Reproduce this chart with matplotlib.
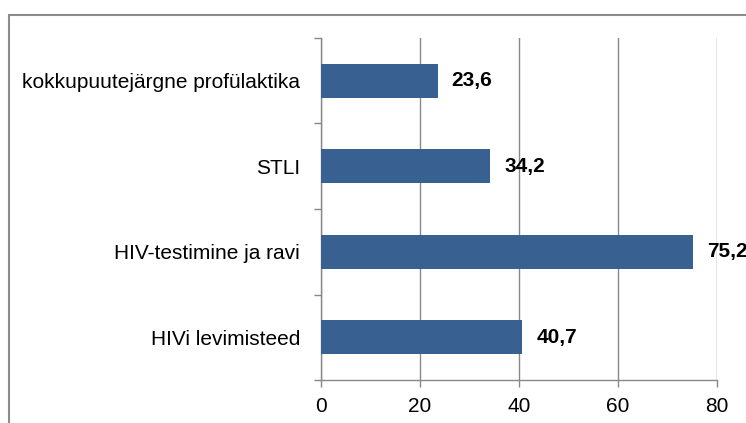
import matplotlib.pyplot as plt
import matplotlib.patches as patches
import numpy as np

plt.rcParams['font.family'] = ['Liberation Sans', 'DejaVu Sans']

# andmed (alt üles)
kategooriad = ["HIVi levimisteed", "HIV-testimine ja ravi", "STLI",
               "kokkupuutejärgne profülaktika"]
vaartused = [40.7, 75.2, 34.2, 23.6]
x_ticks = [0, 20, 40, 60, 80]

fig = plt.figure(figsize=(7.46, 4.23), dpi=100)
ax = fig.add_axes([321/746, 1 - 380/423, 396/746, 342/423])

y = np.arange(len(kategooriad))
ax.barh(y, vaartused, height=0.4, color='#386192', zorder=3)

for yi, v in zip(y, vaartused):
    ax.text(v + 2.8, yi, f"{v:.1f}".replace('.', ','), va='center', ha='left',
            fontsize=15, fontweight='bold', zorder=4)

ax.set_xlim(0, 80)
ax.set_ylim(-0.5, len(kategooriad) - 0.5)
ax.set_xticks(x_ticks)
ax.set_xticklabels([str(t) for t in x_ticks], fontsize=15)
ax.set_yticks(y)
ax.set_yticklabels(kategooriad, fontsize=15)
ax.set_yticks(np.arange(-0.5, len(kategooriad), 1.0), minor=True)
ax.tick_params(axis='y', which='major', length=0, pad=15)
ax.tick_params(axis='y', which='minor', length=5, color='#888888', width=1)
ax.tick_params(axis='x', length=5, color='#888888', width=1, pad=7)

ax.grid(axis='x', color='#888888', linewidth=1, zorder=0)
for s in ['top', 'right']:
    ax.spines[s].set_visible(False)
for s in ['left', 'bottom']:
    ax.spines[s].set_color('#888888')
    ax.spines[s].set_linewidth(1)

# raam ümber graafiku
raam = patches.Rectangle((9/746, -0.1), 1.2, 1 - 15/423 + 0.1, transform=fig.transFigure,
                         fill=False, edgecolor='#8c8c8c', linewidth=1.5, clip_on=False)
fig.patches.append(raam)

plt.savefig("out.png", dpi=100)
